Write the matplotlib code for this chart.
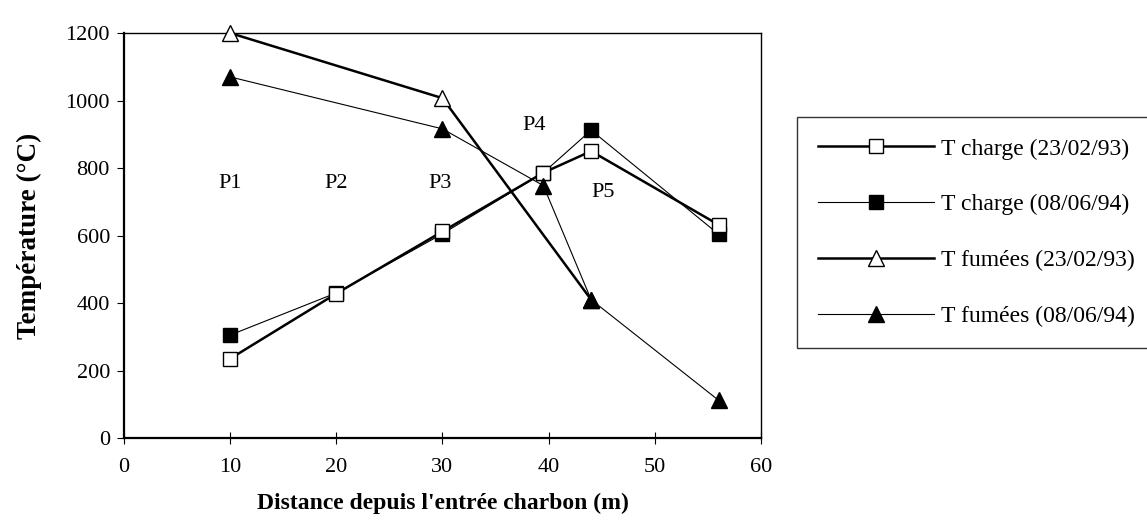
import numpy as np
import matplotlib
matplotlib.use('Agg')
import matplotlib.pyplot as plt

plt.rcParams['font.family'] = ['Liberation Serif', 'DejaVu Serif']

#-------------------------------------------------------------------------------
# Data

# T charge (23/02/93)
x_c93 = [10, 20, 30, 39.5, 44, 56]
t_c93 = [235, 428, 612, 786, 850, 632]
# T charge (08/06/94)
x_c94 = [10, 20, 30, 39.5, 44, 56]
t_c94 = [305, 430, 605, 786, 912, 604]
# T fumees (23/02/93)
x_f93 = [10, 30, 44]
t_f93 = [1200, 1007, 410]
# T fumees (08/06/94)
x_f94 = [10, 30, 39.5, 44, 56]
t_f94 = [1070, 916, 748, 410, 112]

labels = ['T charge (23/02/93)', 'T charge (08/06/94)',
          'T fumées (23/02/93)', 'T fumées (08/06/94)']

zones = ['P1', 'P2', 'P3', 'P4', 'P5']
zone_x = [10, 20, 29.8, 38.6, 45.1]
zone_y = [755, 755, 755, 925, 727]

#-------------------------------------------------------------------------------
# Plot

fig = plt.figure(figsize=(11.47, 5.24), dpi=100)
ax = fig.add_axes([0.108, 0.164, 0.5555, 0.773])

l1, = ax.plot(x_c93, t_c93, '-', color='black', lw=1.8, marker='s', ms=10,
              mfc='white', mec='black', mew=1, zorder=4)
l2, = ax.plot(x_c94, t_c94, '-', color='black', lw=0.8, marker='s', ms=10,
              mfc='black', mec='black', zorder=3)
l3, = ax.plot(x_f93, t_f93, '-', color='black', lw=1.8, marker='^', ms=11,
              mfc='white', mec='black', mew=1, zorder=3, clip_on=False)
l4, = ax.plot(x_f94, t_f94, '-', color='black', lw=0.8, marker='^', ms=11,
              mfc='black', mec='black', zorder=4)

for name, zx, zy in zip(zones, zone_x, zone_y):
    ax.text(zx, zy, name, ha='center', va='center', fontsize=16)

ax.set_xlim(0, 60)
ax.set_ylim(0, 1200)
ax.set_xticks(np.arange(0, 61, 10))
ax.set_yticks(np.arange(0, 1201, 200))
ax.tick_params(axis='x', direction='inout', length=8, labelsize=16, pad=10)
ax.tick_params(axis='y', direction='out', length=5, labelsize=16, pad=5)
for s in ax.spines.values():
    s.set_linewidth(1.0)
ax.spines['left'].set_linewidth(1.6)
ax.spines['bottom'].set_linewidth(1.6)

ax.set_xlabel("Distance depuis l'entrée charbon (m)", fontsize=17,
              fontweight='bold', labelpad=12)
ax.set_ylabel('Température (°C)', fontsize=19.5, fontweight='bold', labelpad=17)

leg = fig.legend([l1, l2, l3, l4], labels, loc='upper left',
                 bbox_to_anchor=(0.695, 0.777), fontsize=17, frameon=True,
                 fancybox=False, edgecolor='black', handlelength=4.9,
                 labelspacing=1.45, borderpad=0.9, handletextpad=0.3,
                 borderaxespad=0)
leg.get_frame().set_linewidth(1.0)

fig.savefig('out.png', dpi=100)
